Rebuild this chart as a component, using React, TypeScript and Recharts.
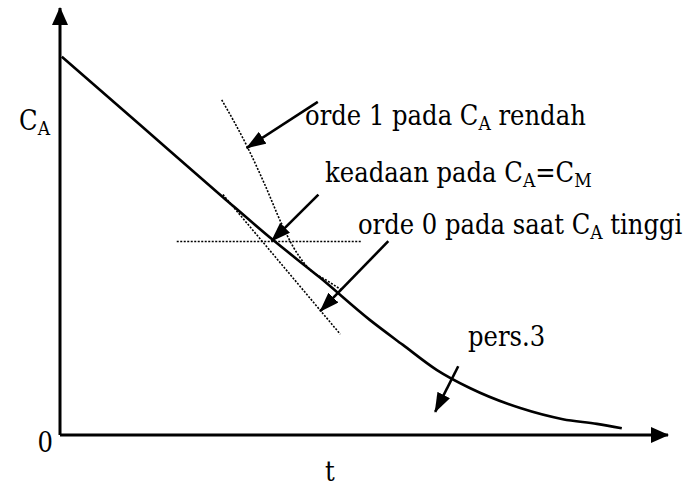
import React from 'react';
import { LineChart, Line, XAxis, YAxis, ReferenceLine, ReferenceDot } from 'recharts';

// main curve "pers.3" (t vs C_A)
const curveT = [0.3, 13.2, 26.8, 35.0, 42.8, 51.0, 56.4, 62.0, 67.4, 75.7, 82.7, 88.3, 92.4];
const curveC = [88.6, 72.6, 55.7, 45.7, 36.8, 26.9, 21.1, 15.2, 11.0, 6.3, 3.7, 2.6, 1.6];

// dotted curve, orde 1
const orde1T = [26.6, 30.8, 33.7, 36.5, 38.3, 40.6, 44.1, 46.4];
const orde1C = [78.5, 67.5, 58.6, 49.3, 44.2, 39.5, 36.0, 33.9];

// dotted tangent, orde 0
const orde0T = [26.8, 46.1];
const orde0C = [56.3, 23.6];

// dotted level C_A = C_M
const levelT = [19.2, 49.7];
const levelC = [45.3, 45.3];

// pointer arrows (from -> to)
const arrowFromT = [42.4, 42.5, 54.0, 65.5];
const arrowFromC = [78.0, 56.3, 45.4, 16.1];
const arrowToT = [30.7, 34.8, 42.8, 61.7];
const arrowToC = [67.2, 45.4, 29.0, 5.4];

// annotation texts: [text, subscript?]
type Part = [string, boolean];
const noteT = [40.3, 43.6, 49.0, 67.1];
const noteC = [72.7, 59.3, 47.0, 20.8];
const noteParts: Part[][] = [
  [['orde 1 pada C', false], ['A', true], [' rendah', false]],
  [['keadaan pada C', false], ['A', true], ['=C', false], ['M', true]],
  [['orde 0 pada saat C', false], ['A', true], [' tinggi', false]],
  [['pers.3', false]],
];

const zip = (xs: number[], ys: number[]) => xs.map((t, i) => ({ t, c: ys[i] }));

const FONT = "'DejaVu Serif', serif";
const SIZE = 27;
const SUB = 19;
const SQUEEZE = 0.9; // DejaVu Serif is wider than the Times face in the scan

const renderParts = (parts: Part[]) => {
  let prevSub = false;
  return parts.map(([s, sub], i) => {
    const dy = sub ? 5 : prevSub ? -5 : 0;
    prevSub = sub;
    return (
      <tspan key={i} fontSize={sub ? SUB : SIZE} dy={dy}>
        {s}
      </tspan>
    );
  });
};

const textShape = (parts: Part[], anchor: string, dx: number, dy: number) => (p: any) => (
  <g transform={`translate(${p.cx + dx},${p.cy + dy}) scale(${SQUEEZE},1)`}>
    <text
      x={0}
      y={0}
      textAnchor={anchor}
      fill="#000"
      fontFamily={FONT}
      style={{ whiteSpace: 'pre', fontFamily: FONT, fontSize: SIZE }}
    >
      {renderParts(parts)}
    </text>
  </g>
);

const arrowShape = (marker: string, width: number) => (p: any) => (
  <line
    x1={p.x1}
    y1={p.y1}
    x2={p.x2}
    y2={p.y2}
    stroke="#000"
    strokeWidth={width}
    markerEnd={`url(#${marker})`}
  />
);

export default function App() {
  return (
    <div style={{ position: 'absolute', left: 0, top: 0, background: '#fff' }}>
      <LineChart width={683} height={486} margin={{ top: 8, right: 15, left: 60, bottom: 51 }}>
        <defs>
          <marker id="axisHead" viewBox="0 0 18 16" refX="17" refY="8" markerWidth="18" markerHeight="16" markerUnits="userSpaceOnUse" orient="auto">
            <path d="M0,0 L18,8 L0,16 z" fill="#000" />
          </marker>
          <marker id="noteHead" viewBox="0 0 20 14" refX="19" refY="7" markerWidth="20" markerHeight="14" markerUnits="userSpaceOnUse" orient="auto">
            <path d="M0,0 L20,7 L0,14 z" fill="#000" />
          </marker>
        </defs>
        <XAxis type="number" dataKey="t" domain={[0, 100]} hide allowDataOverflow />
        <YAxis type="number" dataKey="c" domain={[0, 100]} hide allowDataOverflow />

        {/* axes with arrow heads */}
        <ReferenceLine segment={[{ x: 0, y: 0 }, { x: 0, y: 100 }]} shape={arrowShape('axisHead', 3)} />
        <ReferenceLine segment={[{ x: 0, y: 0 }, { x: 100, y: 0 }]} shape={arrowShape('axisHead', 3)} />

        <Line data={zip(levelT, levelC)} dataKey="c" type="linear" dot={false} stroke="#000" strokeWidth={1.6} strokeDasharray="2 1.5" isAnimationActive={false} />
        <Line data={zip(orde0T, orde0C)} dataKey="c" type="linear" dot={false} stroke="#000" strokeWidth={1.6} strokeDasharray="2 1.5" isAnimationActive={false} />
        <Line data={zip(orde1T, orde1C)} dataKey="c" type="monotone" dot={false} stroke="#000" strokeWidth={1.6} strokeDasharray="2 1.5" isAnimationActive={false} />
        <Line data={zip(curveT, curveC)} dataKey="c" type="monotone" dot={false} stroke="#000" strokeWidth={2.6} isAnimationActive={false} />

        {arrowFromT.map((t, i) => (
          <ReferenceLine
            key={`a${i}`}
            segment={[{ x: t, y: arrowFromC[i] }, { x: arrowToT[i], y: arrowToC[i] }]}
            shape={arrowShape('noteHead', 2.6)}
          />
        ))}

        {noteT.map((t, i) => (
          <ReferenceDot key={`n${i}`} x={t} y={noteC[i]} r={0} shape={textShape(noteParts[i], 'start', 0, 0)} />
        ))}

        {/* axis labels */}
        <ReferenceDot x={0} y={71.5} r={0} shape={textShape([['C', false], ['A', true]], 'end', -10, 0)} />
        <ReferenceDot x={0} y={0} r={0} shape={textShape([['0', false]], 'end', -7, 17)} />
        <ReferenceDot x={44.4} y={0} r={0} shape={textShape([['t', false]], 'middle', 0, 46)} />
      </LineChart>
    </div>
  );
}
